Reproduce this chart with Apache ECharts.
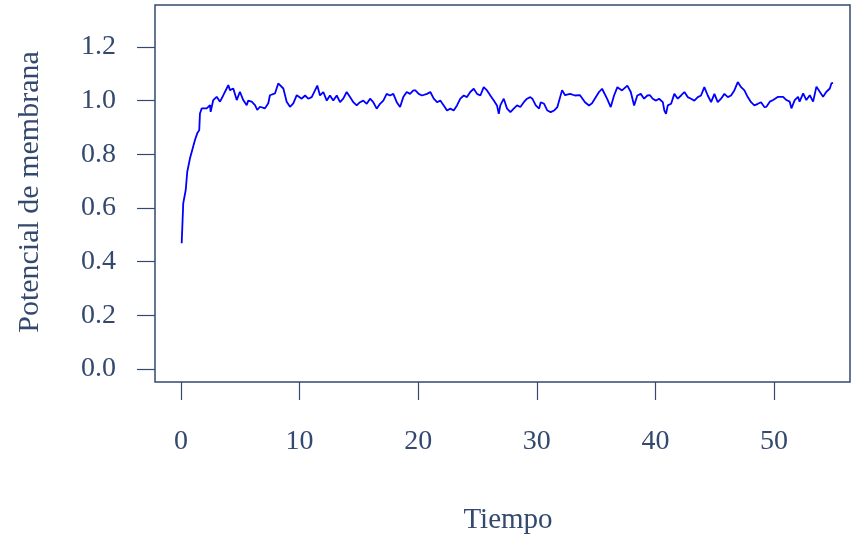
<!DOCTYPE html>
<html>
<head>
<meta charset="utf-8">
<script src="https://cdn.jsdelivr.net/npm/echarts@6/dist/echarts.min.js"></script>
<style>html,body{margin:0;padding:0;background:#fff}#c{width:851px;height:542px}</style>
</head>
<body>
<div id="c"></div>
<script>
// Time values (Tiempo)
const tiempo = [0.06,0.19,0.40,0.53,0.76,0.95,1.18,1.37,1.54,1.60,1.75,1.88,2.17,2.45,2.50,2.72,3.01,3.29,3.57,3.85,3.99,4.13,4.41,4.70,4.97,5.25,5.54,5.67,5.96,6.24,6.43,6.66,7.08,7.36,7.50,7.93,8.20,8.35,8.63,8.91,9.19,9.47,9.76,9.89,10.18,10.46,10.73,11.02,11.30,11.49,11.72,12.00,12.29,12.56,12.84,13.13,13.41,13.68,13.97,14.25,14.53,14.81,15.09,15.37,15.66,15.94,16.21,16.50,16.78,17.06,17.34,17.62,17.90,18.19,18.47,18.74,19.03,19.31,19.59,19.76,20.04,20.32,20.74,21.02,21.31,21.59,21.86,22.15,22.43,22.71,22.99,23.27,23.55,23.84,24.11,24.39,24.68,24.96,25.24,25.52,25.80,26.08,26.37,26.64,26.79,26.92,27.21,27.49,27.77,28.05,28.33,28.61,28.90,29.17,29.45,29.62,29.91,30.19,30.33,30.61,30.89,31.17,31.45,31.73,32.13,32.38,32.80,33.22,33.64,34.06,34.40,34.65,35.24,35.50,35.92,36.23,36.51,36.79,37.18,37.63,37.92,38.20,38.47,38.76,39.04,39.32,39.54,39.77,40.05,40.30,40.62,40.75,40.89,41.04,41.32,41.59,41.88,42.16,42.44,42.72,43.00,43.28,43.57,43.84,44.12,44.41,44.69,44.97,45.25,45.53,45.81,46.10,46.37,46.65,46.94,47.22,47.50,47.78,48.06,48.34,48.63,48.90,49.18,49.35,49.64,49.92,50.34,50.76,51.04,51.32,51.46,51.74,52.02,52.15,52.45,52.72,53.01,53.29,53.57,53.85,54.13,54.41,54.70,54.83,54.97];
// Membrane potential values
const potencial = [0.469,0.617,0.667,0.735,0.785,0.816,0.853,0.878,0.890,0.952,0.971,0.977,0.971,0.983,0.958,1.002,1.014,0.996,1.020,1.045,1.058,1.039,1.045,1.002,1.033,1.002,0.983,1.000,0.996,0.983,0.965,0.977,0.971,0.990,1.020,1.027,1.064,1.070,1.045,0.996,0.977,0.990,1.020,1.025,1.007,1.019,1.007,1.013,1.038,1.056,1.019,1.032,1.000,1.019,1.000,1.019,0.994,1.007,1.032,1.013,0.994,0.982,0.994,1.000,0.988,1.007,0.994,0.970,0.988,1.000,1.025,1.019,1.025,0.994,0.976,1.013,1.032,1.025,1.038,1.038,1.025,1.019,1.025,1.032,1.007,0.994,1.000,0.982,0.963,0.970,0.963,0.982,1.007,1.019,1.013,1.032,1.044,1.025,1.019,1.050,1.038,1.019,1.000,0.982,0.951,0.982,1.007,0.970,0.957,0.970,0.982,0.976,0.994,1.007,1.013,1.007,0.982,0.970,0.994,0.988,0.963,0.957,0.963,0.976,1.039,1.020,1.025,1.019,1.020,0.994,0.982,0.990,1.032,1.044,1.007,0.976,1.019,1.050,1.038,1.056,1.032,0.982,1.019,1.025,1.007,1.019,1.020,1.007,1.000,1.007,0.994,0.963,0.951,0.982,0.988,1.025,1.007,1.019,1.032,1.013,1.007,1.000,1.013,1.019,1.050,1.019,0.994,1.025,0.994,1.007,1.025,1.013,1.019,1.038,1.069,1.050,1.038,1.013,0.994,0.982,0.988,0.994,0.976,0.977,0.996,1.002,1.014,1.014,1.002,0.996,0.971,1.002,1.014,0.996,1.027,1.002,1.020,0.996,1.052,1.033,1.014,1.033,1.045,1.064,1.066];
const xTicks = [0,10,20,30,40,50];
const yTicks = [0,0.2,0.4,0.6,0.8,1.0,1.2];

const axisCol = '#34496e';
const font = '"Liberation Serif","DejaVu Serif",serif';
const chart = echarts.init(document.getElementById('c'));
chart.setOption({
  animation:false,
  backgroundColor:'#fff',
  grid:{left:155,right:1,top:5,bottom:160,show:true,borderColor:axisCol,borderWidth:1.5,backgroundColor:'transparent'},
  xAxis:{type:'value',min:-2.19,max:56.4,
    axisLine:{show:false,onZero:false},splitLine:{show:false},
    axisTick:{show:true,length:18,customValues:xTicks,lineStyle:{color:axisCol,width:1.2}},
    axisLabel:{customValues:xTicks,margin:46,color:axisCol,fontFamily:font,fontSize:28}
  },
  yAxis:{type:'value',min:-0.048,max:1.356,
    axisLine:{show:false,onZero:false},splitLine:{show:false},
    axisTick:{show:true,length:18,customValues:yTicks,lineStyle:{color:axisCol,width:1.2}},
    axisLabel:{customValues:yTicks,margin:39,color:axisCol,fontFamily:font,fontSize:28,
      formatter:v=>v.toFixed(1)}
  },
  graphic:[
    {type:'text',x:508,y:520,style:{text:'Tiempo',fill:axisCol,font:'29px '+font,textAlign:'center',textVerticalAlign:'middle'}},
    {type:'text',x:30,y:192,rotation:Math.PI/2,style:{text:'Potencial de membrana',fill:axisCol,font:'30px '+font,textAlign:'center',textVerticalAlign:'middle'}}
  ],
  series:[{type:'line',data:tiempo.map((t,i)=>[t,potencial[i]]),showSymbol:false,
    lineStyle:{color:'#0000ff',width:1.8}}]
});
</script>
</body>
</html>
